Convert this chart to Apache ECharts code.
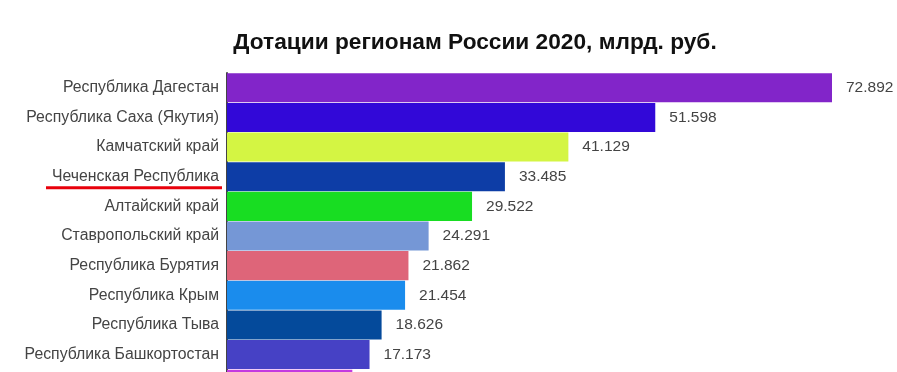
<!DOCTYPE html>
<html><head><meta charset="utf-8">
<script src="https://cdn.jsdelivr.net/npm/echarts@6/dist/echarts.min.js"></script>
<style>html,body{margin:0;padding:0;background:#fff}#c{width:897px;height:372px}</style>
</head><body><div id="c"></div>
<script>
const titleText = 'Дотации регионам России 2020, млрд. руб.';
const categories = [
  'Республика Дагестан',
  'Республика Саха (Якутия)',
  'Камчатский край',
  'Чеченская Республика',
  'Алтайский край',
  'Ставропольский край',
  'Республика Бурятия',
  'Республика Крым',
  'Республика Тыва',
  'Республика Башкортостан',
  'Кабардино-Балкарская Республика'
];
const values = [72.892, 51.598, 41.129, 33.485, 29.522, 24.291, 21.862, 21.454, 18.626, 17.173, 15.1];
const barColors = ['#8225c9', '#3208d8', '#d4f543', '#0d3da6', '#18dd22', '#7597d6', '#de6579', '#1a8ced', '#044a9b', '#4641c5', '#c43ae0'];
const highlighted = 'Чеченская Республика';

const chart = echarts.init(document.getElementById('c'), null, {renderer: 'canvas'});
chart.setOption({
  animation: false,
  backgroundColor: '#fff',
  textStyle: {fontFamily: 'Liberation Sans, Arial, sans-serif'},
  title: {
    text: titleText,
    left: 470, top: 26, textAlign: 'center',
    textStyle: {fontSize: 22.7, fontWeight: 'bold', color: '#111', fontFamily: 'Liberation Sans, Arial, sans-serif'}
  },
  grid: {left: 227, top: 73, right: 6, bottom: -27, containLabel: false, outerBoundsMode: 'none'},
  xAxis: {type: 'value', min: 0, max: 80, show: false},
  yAxis: {
    type: 'category', inverse: true, data: categories,
    axisLine: {show: true, lineStyle: {color: '#444', width: 2}},
    axisTick: {show: false},
    axisLabel: {fontSize: 15.8, color: '#444', margin: 8}
  },
  series: [{
    type: 'bar',
    data: values.map((v, i) => ({value: v, itemStyle: {color: barColors[i]}})),
    barCategoryGap: '2%',
    label: {
      show: true, position: 'right', distance: 14, fontSize: 15.5, color: '#444',
      formatter: p => p.value.toFixed(3)
    }
  }]
});
const yMid = chart.convertToPixel({yAxisIndex: 0}, highlighted);
chart.setOption({
  graphic: [{
    type: 'line',
    shape: {x1: 46, y1: yMid + 11, x2: 222, y2: yMid + 11},
    style: {stroke: '#e8000b', lineWidth: 3}
  }]
});
</script>
</body></html>
